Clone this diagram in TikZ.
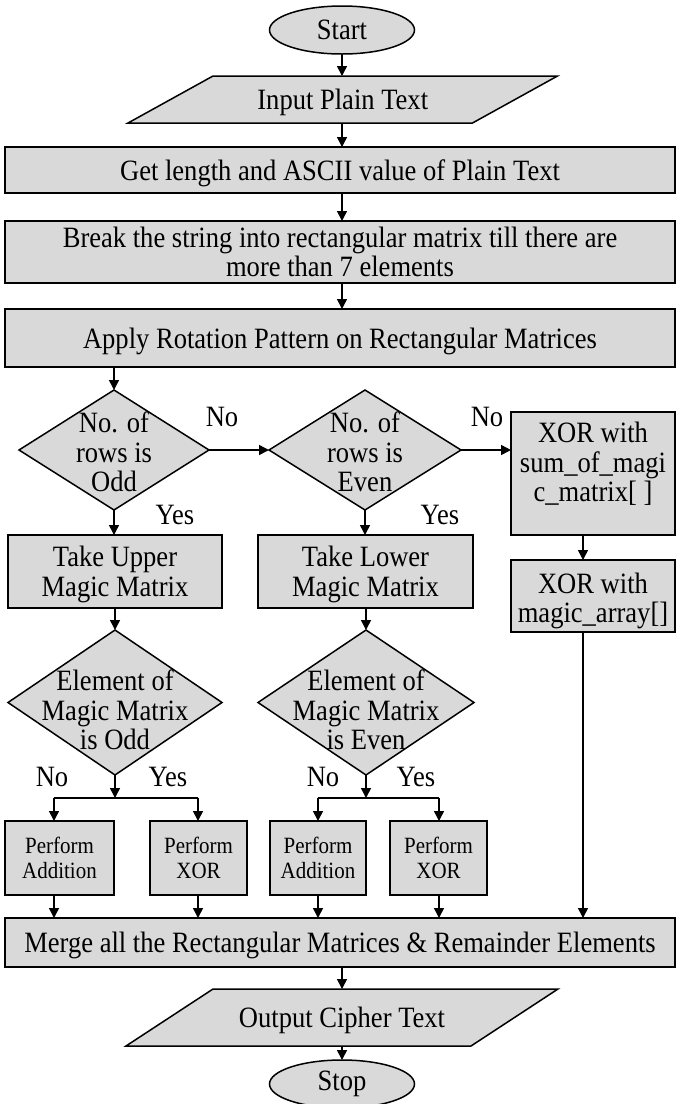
\documentclass[tikz,border=0pt]{standalone}
\usepackage{fontspec}
\setmainfont[FakeStretch=0.9]{Liberation Serif}
\usetikzlibrary{shapes.geometric,arrows.meta,backgrounds,calc}
\definecolor{boxgray}{RGB}{217,217,217}

\begin{document}
\begin{tikzpicture}[x=1pt,y=-1pt,
  every node/.style={font=\fontsize{29.5}{29.5}\selectfont, align=center, inner sep=0pt, outer sep=0pt},
  small/.style={font=\fontsize{23.3}{25}\selectfont},
  box/.style={draw, fill=boxgray, line width=1.5pt, rectangle, text depth=-2pt},
  wide/.style={box, minimum width=670pt},
  oval/.style={draw, fill=boxgray, line width=1.5pt, ellipse, minimum width=145pt, minimum height=48pt},
  decision/.style={draw, fill=boxgray, line width=1.5pt, diamond},
  iobox/.style={rectangle, text depth=-2pt},
  ioshape/.style={draw, fill=boxgray, line width=1.5pt},
  lbl/.style={},
  arr/.style={line width=1.5pt, -{Triangle[length=10pt,width=10pt]}},
  ln/.style={line width=1.5pt}
]
\useasboundingbox (0,0) rectangle (676,1104);

% terminals and input/output
\node[oval] (start) at (342,30) {Start};
\node[iobox, minimum width=344.5pt, minimum height=47pt] (input) at (342.75,99.5) {Input Plain Text};
\node[wide, minimum height=46pt] (get) at (340,170) {Get length and ASCII value of Plain Text};
\node[wide, minimum height=62pt] (break) at (340,252) {Break the string into rectangular matrix till there are\\more than 7 elements};
\node[wide, minimum height=58pt] (apply) at (340,338) {Apply Rotation Pattern on Rectangular Matrices};

% row-count decisions
\node[decision, minimum width=190pt, minimum height=120pt] (d1) at (114,450) {};
\node (d1t) at (114,452) {No. of\\rows is\\Odd};
\node[decision, minimum width=192pt, minimum height=120pt] (d2) at (365,450) {};
\node (d2t) at (365,452) {No. of\\rows is\\Even};

% XOR branch
\node[box, minimum width=164pt, minimum height=123pt] (xor1) at (593,473.5) {};
\node (xor1t) at (593,464) {XOR with\\sum\_of\_magi\\c\_matrix[ ]};
\node[box, minimum width=164pt, minimum height=72pt] (xor2) at (593,596) {};
\node (xor2t) at (593,601) {XOR with\\magic\_array[]};

% magic matrix selection
\node[box, minimum width=214pt, minimum height=73pt] (take1) at (115,571.5) {Take Upper\\Magic Matrix};
\node[box, minimum width=215pt, minimum height=73pt] (take2) at (365.5,571.5) {Take Lower\\Magic Matrix};

% element decisions
\node[decision, minimum width=214pt, minimum height=145pt] (d3) at (115,702.5) {};
\node (d3t) at (115,710) {Element of\\Magic Matrix\\is Odd};
\node[decision, minimum width=216pt, minimum height=145pt] (d4) at (366,702.5) {};
\node (d4t) at (366,710) {Element of\\Magic Matrix\\is Even};

% operations
\node[box, small, minimum width=109pt, minimum height=74pt] (p1) at (59.5,858) {Perform\\Addition};
\node[box, small, minimum width=97pt, minimum height=74pt] (p2) at (198.5,858) {Perform\\XOR};
\node[box, small, minimum width=96pt, minimum height=74pt] (p3) at (318,858) {Perform\\Addition};
\node[box, small, minimum width=97pt, minimum height=74pt] (p4) at (438.5,858) {Perform\\XOR};

\node[wide, minimum height=49pt] (merge) at (340,942.5) {Merge all the Rectangular Matrices \& Remainder Elements};
\node[iobox, minimum width=345pt, minimum height=57pt] (output) at (342,1017.5) {Output Cipher Text};
\node[oval] (stop) at (342,1084) {Stop};

% parallelogram outlines behind the input/output texts
\begin{scope}[on background layer]
\draw[ioshape] ($(input.north west)+(42.5,0)$) -- ($(input.north east)+(42.5,0)$)
  -- ($(input.south east)+(-42.5,0)$) -- ($(input.south west)+(-42.5,0)$) -- cycle;
\draw[ioshape] ($(output.north west)+(43.5,0)$) -- ($(output.north east)+(43.5,0)$)
  -- ($(output.south east)+(-43.5,0)$) -- ($(output.south west)+(-43.5,0)$) -- cycle;
\end{scope}

% branch points
\coordinate (b1l) at (54,798);
\coordinate (b1r) at (198,798);
\coordinate (b2l) at (318,798);
\coordinate (b2r) at (439,798);
\coordinate (xo) at (583,0);

% main flow
\draw[arr] (start.south) -- (start.south |- input.north);
\draw[arr] (input.south -| start) -- (get.north -| start);
\draw[arr] (get.south -| start) -- (break.north -| start);
\draw[arr] (break.south -| start) -- (apply.north -| start);
\draw[arr] (apply.south -| d1.north) -- (d1.north);

% decisions on rows
\draw[arr] (d1.east) -- (d2.west);
\draw[arr] (d2.east) -- (d2.east -| xor1.west);
\draw[arr] (d1.south) -- (d1.south |- take1.north);
\draw[arr] (d2.south) -- (d2.south |- take2.north);
\draw[arr] (xor1.south -| xo) -- (xor2.north -| xo);
\draw[arr] (xor2.south -| xo) -- (merge.north -| xo);

% decisions on elements
\draw[arr] (take1.south -| d3.north) -- (d3.north);
\draw[arr] (take2.south -| d4.north) -- (d4.north);
\draw[arr] (d3.south) -- (d3.south |- b1l);
\draw[arr] (d4.south) -- (d4.south |- b2l);
\draw[ln] (b1l) -- (b1r);
\draw[ln] (b2l) -- (b2r);
\draw[arr] (b1l) -- (b1l |- p1.north);
\draw[arr] (b1r) -- (b1r |- p2.north);
\draw[arr] (b2l) -- (b2l |- p3.north);
\draw[arr] (b2r) -- (b2r |- p4.north);

% results into the merge step
\draw[arr] (p1.south -| b1l) -- (merge.north -| b1l);
\draw[arr] (p2.south -| b1r) -- (merge.north -| b1r);
\draw[arr] (p3.south -| b2l) -- (merge.north -| b2l);
\draw[arr] (p4.south -| b2r) -- (merge.north -| b2r);
\draw[arr] (merge.south -| start) -- (output.north -| start);
\draw[arr] (output.south -| stop) -- (stop.north);

% branch labels
\node[lbl] (no1) at (222,417) {No};
\node[lbl] (no2) at (487,417) {No};
\node[lbl] (yes1) at (175,515) {Yes};
\node[lbl] (yes2) at (440,515) {Yes};
\node[lbl] (no3) at (52,777) {No};
\node[lbl] (yes3) at (168,777) {Yes};
\node[lbl] (no4) at (323,777) {No};
\node[lbl] (yes4) at (416,777) {Yes};
\end{tikzpicture}
\end{document}
